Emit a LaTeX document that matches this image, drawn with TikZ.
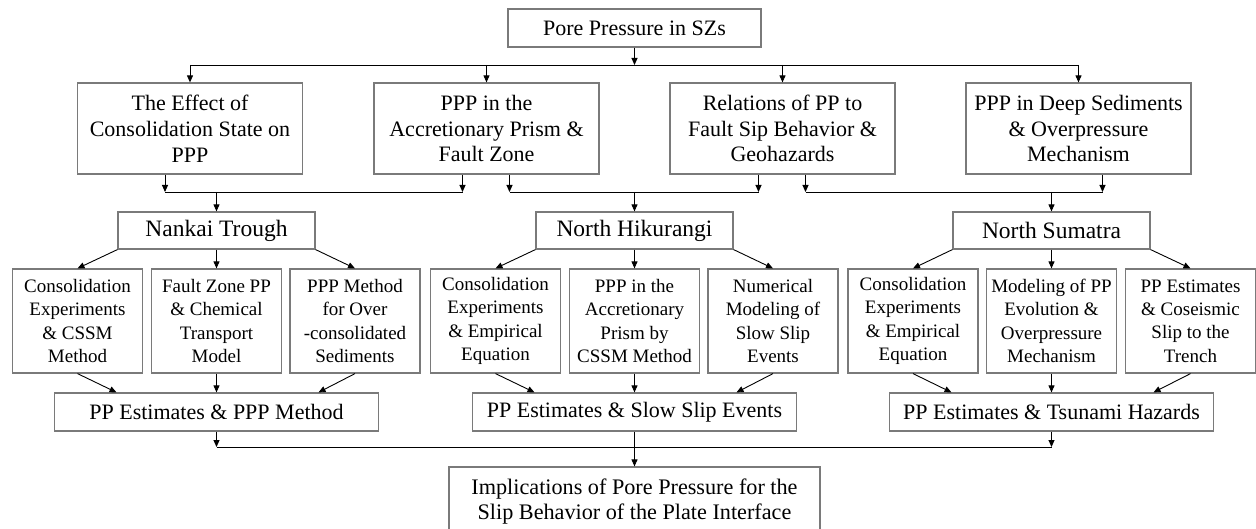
\documentclass[tikz,border=0pt]{standalone}
\usepackage{fontspec}
\setmainfont{Liberation Serif}
\usepackage{tikz}
\usetikzlibrary{arrows.meta}
\definecolor{boxgray}{HTML}{7A7A7A}

\begin{document}
\begin{tikzpicture}[
    x=1pt, y=-1pt,
    box/.style={draw=boxgray, line width=1.2pt, align=center, inner sep=1pt, fill=white},
    topbox/.style={box, minimum width=253pt, minimum height=38pt, font=\fontsize{22}{26}\selectfont},
    themebox/.style={box, minimum width=225pt, minimum height=91pt, font=\fontsize{22}{25.8}\selectfont},
    sitebox/.style={box, minimum width=197pt, minimum height=37pt, font=\fontsize{23.5}{28}\selectfont},
    studybox/.style={box, minimum width=130pt, minimum height=104pt, font=\fontsize{19}{23.3}\selectfont},
    estbox/.style={box, minimum width=324pt, minimum height=38pt, font=\fontsize{22}{26}\selectfont},
    implbox/.style={box, minimum width=371pt, minimum height=70pt, font=\fontsize{22.2}{25}\selectfont},
    arr/.style={-{Triangle[length=7pt,width=6pt]}, line width=0.9pt},
    bus/.style={line width=0.9pt}
]
\useasboundingbox (0,0) rectangle (1256,529);

\node[topbox] (pp) at (634.5,28) {Pore Pressure in SZs};

\node[themebox] (effect)   at (190,128.5)   {The Effect of\\Consolidation State on\\PPP};
\node[themebox] (prism)    at (486.5,128.5) {PPP in the\\Accretionary Prism \&\\Fault Zone};
\node[themebox] (relation) at (782.5,128.5) {Relations of PP to\\Fault Sip Behavior \&\\Geohazards};
\node[themebox] (deep)     at (1078.5,128.5) {PPP in Deep Sediments\\\& Overpressure\\Mechanism};

\node[sitebox] (nankai)    at (216.5,230.5)  {Nankai Trough};
\node[sitebox] (hikurangi) at (634.5,230.5)  {North Hikurangi};
\node[sitebox] (sumatra)   at (1051.5,230.5) {North Sumatra};

\node[studybox] (nkA) at (77.5,321)   {Consolidation\\Experiments\\\& CSSM\\Method};
\node[studybox] (nkB) at (216.5,321)  {Fault Zone PP\\\& Chemical\\Transport\\Model};
\node[studybox] (nkC) at (355,321)    {PPP Method\\for Over\\-consolidated\\Sediments};
\node[studybox] (hkA) at (495.5,321)  {Consolidation\\Experiments\\\& Empirical\\Equation};
\node[studybox] (hkB) at (634.5,321)  {PPP in the\\Accretionary\\Prism by\\CSSM Method};
\node[studybox] (hkC) at (773,321)    {Numerical\\Modeling of\\Slow Slip\\Events};
\node[studybox] (smA) at (913,321)    {Consolidation\\Experiments\\\& Empirical\\Equation};
\node[studybox] (smB) at (1051.5,321) {Modeling of PP\\Evolution \&\\Overpressure\\Mechanism};
\node[studybox] (smC) at (1190.5,321) {PP Estimates\\\& Coseismic\\Slip to the\\Trench};

\node[estbox] (nkEst) at (216.5,412)  {PP Estimates \& PPP Method};
\node[estbox] (hkEst) at (634.5,412)  {PP Estimates \& Slow Slip Events};
\node[estbox] (smEst) at (1051.5,412) {PP Estimates \& Tsunami Hazards};

\node[implbox] (impl) at (634.5,502) {Implications of Pore Pressure for the\\Slip Behavior of the Plate Interface};

% top level
\coordinate (busTop) at (0,65);
\draw[arr] (pp.south) -- (pp.south |- busTop);
\draw[bus] (effect.north |- busTop) -- (deep.north |- busTop);
\foreach \n in {effect,prism,relation,deep}
  \draw[arr] (\n.north |- busTop) -- (\n.north);

% themes to sites
\coordinate (busMid) at (0,192);
\coordinate (effOut)   at ([xshift=-25pt]effect.south);
\coordinate (priOutL)  at ([xshift=-24pt]prism.south);
\coordinate (priOutR)  at ([xshift=23pt]prism.south);
\coordinate (relOutL)  at ([xshift=-24pt]relation.south);
\coordinate (relOutR)  at ([xshift=23pt]relation.south);
\coordinate (deepOut)  at ([xshift=24pt]deep.south);
\foreach \c in {effOut,priOutL,priOutR,relOutL,relOutR,deepOut}
  \draw[arr] (\c) -- (\c |- busMid);
\draw[bus] (effOut |- busMid) -- (priOutL |- busMid);
\draw[bus] (priOutR |- busMid) -- (relOutL |- busMid);
\draw[bus] (relOutR |- busMid) -- (deepOut |- busMid);
\foreach \s in {nankai,hikurangi,sumatra}
  \draw[arr] (\s.north |- busMid) -- (\s.north);

% sites to studies to estimates
\foreach \s/\a/\b/\c/\e in {nankai/nkA/nkB/nkC/nkEst, hikurangi/hkA/hkB/hkC/hkEst, sumatra/smA/smB/smC/smEst} {
  \draw[arr] (\s.south west) -- (\a.north);
  \draw[arr] (\s.south) -- (\b.north);
  \draw[arr] (\s.south east) -- (\c.north);
  \draw[arr] (\a.south) -- ([xshift=-100pt]\e.north);
  \draw[arr] (\b.south) -- (\e.north);
  \draw[arr] (\c.south) -- ([xshift=102pt]\e.north);
}

% estimates to implications
\coordinate (busLow) at (0,447);
\draw[arr] (nkEst.south) -- (nkEst.south |- busLow);
\draw[arr] (smEst.south) -- (smEst.south |- busLow);
\draw[bus] (nkEst.south |- busLow) -- (smEst.south |- busLow);
\draw[arr] (hkEst.south) -- (impl.north);
\end{tikzpicture}
\end{document}
